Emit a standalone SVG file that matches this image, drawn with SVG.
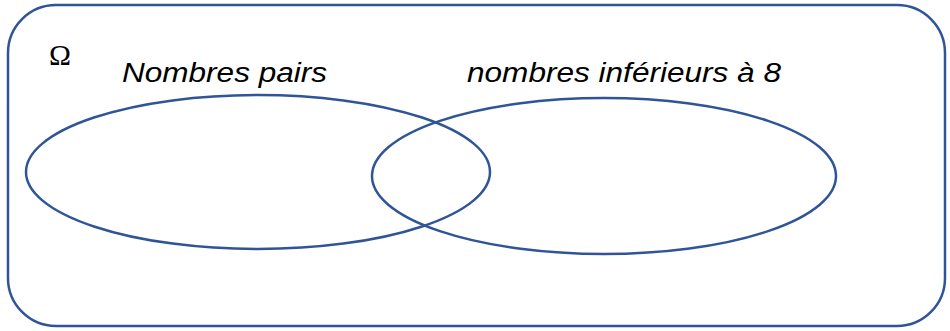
<svg xmlns="http://www.w3.org/2000/svg" width="950" height="331" viewBox="0 0 950 331">
<style>
.b{fill:none;stroke:#2F5597;stroke-width:2.5}
.t{font-family:"Liberation Sans",Arial,sans-serif;font-style:italic;font-size:27px;fill:#000}
</style>
<rect width="950" height="331" fill="#fff"/>
<g id="universe">
<rect class="b" x="8" y="5" width="937" height="321" rx="48" ry="48"/>
<text x="49" y="65" font-family="Liberation Serif,serif" font-size="29" fill="#000" textLength="22" lengthAdjust="spacingAndGlyphs">Ω</text>
</g>
<g id="pairs">
<ellipse class="b" cx="258" cy="172" rx="232" ry="77"/>
<text class="t" x="122" y="82" textLength="205" lengthAdjust="spacingAndGlyphs">Nombres pairs</text>
</g>
<g id="inf8">
<ellipse class="b" cx="604" cy="176" rx="232" ry="78"/>
<text class="t" x="467" y="82" textLength="314" lengthAdjust="spacingAndGlyphs">nombres inférieurs à 8</text>
</g>
<g id="connectors"></g>
</svg>
